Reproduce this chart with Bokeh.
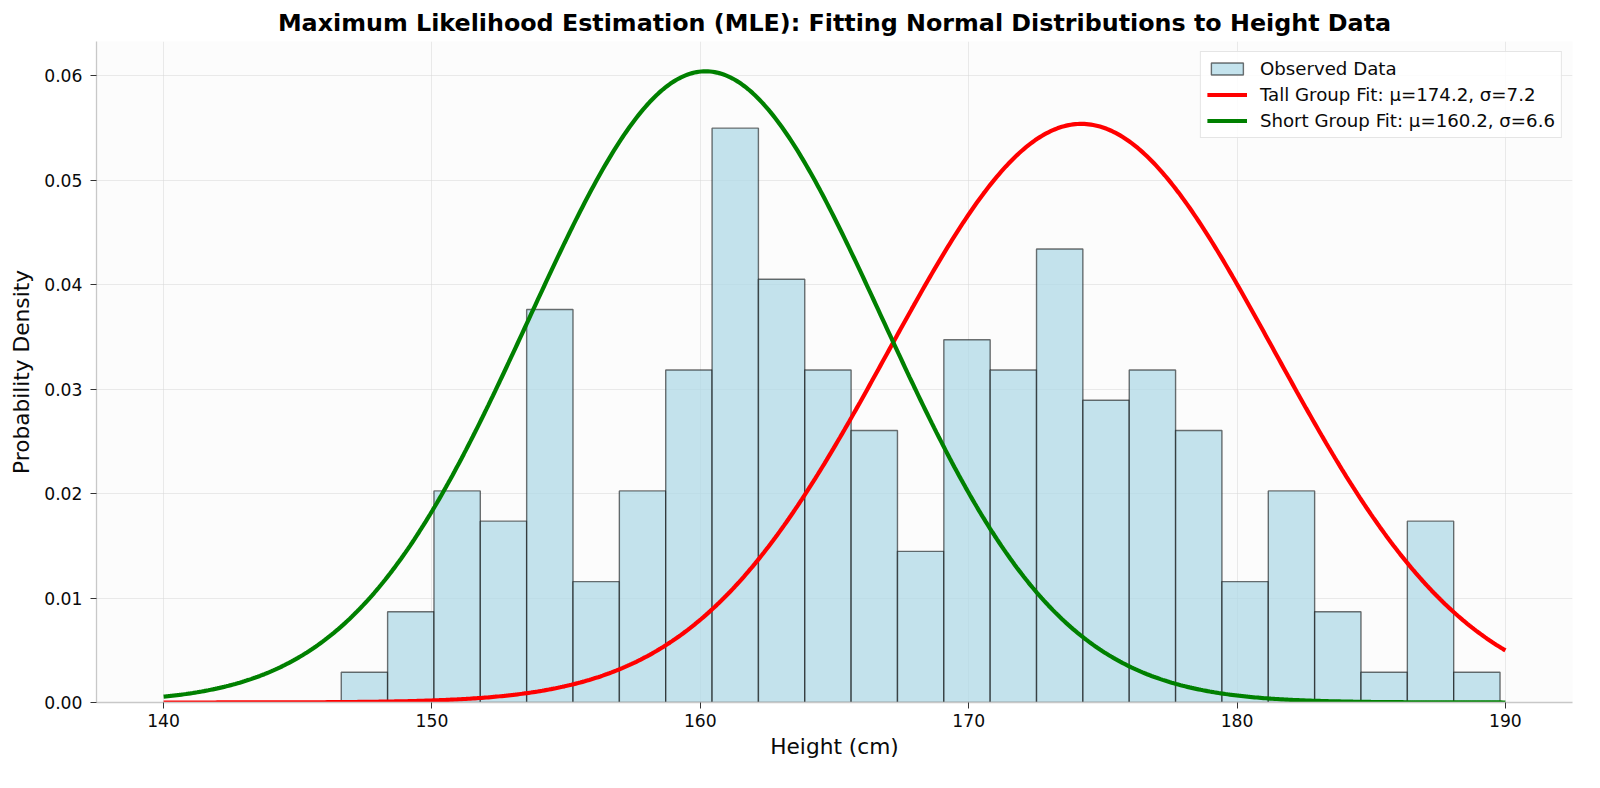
import numpy as np
from bokeh.plotting import figure
from bokeh.models import Range1d, FixedTicker, PrintfTickFormatter, Legend, LegendItem
from bokeh.embed import file_html
from bokeh.resources import INLINE

# ---- data ----
counts = [1, 3, 7, 6, 13, 4, 7, 11, 19, 14, 11, 9, 5, 12, 11, 15, 10, 11, 9, 4, 7, 3, 1, 6, 1]
data_min = 146.62
data_max = 189.80
tall_mu, tall_sigma = 174.2, 7.2
short_mu, short_sigma = 160.2, 6.6
x_ticks = [140, 150, 160, 170, 180, 190]
y_ticks = [0.00, 0.01, 0.02, 0.03, 0.04, 0.05, 0.06]
curve_lo, curve_hi = 140, 190

# histogram (density)
n_total = sum(counts)
edges = np.linspace(data_min, data_max, len(counts) + 1)
width = edges[1] - edges[0]
density = np.array(counts) / (n_total * width)

xs = np.linspace(curve_lo, curve_hi, 600)
def pdf(x, mu, s):
    return np.exp(-0.5 * ((x - mu) / s) ** 2) / (s * np.sqrt(2 * np.pi))

FONT = "DejaVu Sans"

p = figure(width=1584, height=772, output_backend="svg", toolbar_location=None,
           x_range=Range1d(137.5, 192.5), y_range=Range1d(0, 0.0633),
           min_border_left=96, min_border_right=12, min_border_top=41, min_border_bottom=70,
           title="Maximum Likelihood Estimation (MLE): Fitting Normal Distributions to Height Data")
p.title.align = "center"
p.title.text_font = FONT
p.title.text_font_size = "23.8px"
p.title.text_font_style = "bold"
p.title.text_color = "#000000"

p.background_fill_color = "#fcfcfc"
p.border_fill_color = "white"
p.outline_line_color = None

bars = p.quad(left=edges[:-1], right=edges[1:], bottom=0, top=density,
              fill_color="#add8e6", fill_alpha=0.72, line_color="black", line_alpha=0.55, line_width=1.4)
tall = p.line(xs, pdf(xs, tall_mu, tall_sigma), line_color="#ff0000", line_width=4.2)
short = p.line(xs, pdf(xs, short_mu, short_sigma), line_color="#008000", line_width=4.2)

for ax in (p.xaxis[0], p.yaxis[0]):
    ax.axis_line_color = "#c8c8c8"
    ax.axis_line_width = 1.3
    ax.major_tick_line_color = "#333333"
    ax.major_tick_in = 0
    ax.major_tick_out = 6
    ax.minor_tick_line_color = None
    ax.major_label_text_font = FONT
    ax.major_label_text_font_size = "17.2px"
    ax.major_label_text_color = "#0a0a0a"
    ax.axis_label_text_font = FONT
    ax.axis_label_text_font_size = "21.7px"
    ax.axis_label_text_font_style = "normal"
    ax.axis_label_text_color = "#0a0a0a"

p.xaxis.ticker = FixedTicker(ticks=x_ticks)
p.yaxis.ticker = FixedTicker(ticks=y_ticks)
p.yaxis.formatter = PrintfTickFormatter(format="%.2f")
p.xaxis.axis_label = "Height (cm)"
p.yaxis.axis_label = "Probability Density"
p.xaxis.major_label_standoff = 5
p.yaxis.major_label_standoff = 8
p.xaxis.axis_label_standoff = 4
p.yaxis.axis_label_standoff = 7

p.grid.grid_line_color = "#d8d8d8"
p.grid.grid_line_alpha = 0.55
p.grid.grid_line_width = 1

legend = Legend(items=[
    LegendItem(label="Observed Data", renderers=[bars]),
    LegendItem(label="Tall Group Fit: μ=%.1f, σ=%.1f" % (tall_mu, tall_sigma), renderers=[tall]),
    LegendItem(label="Short Group Fit: μ=%.1f, σ=%.1f" % (short_mu, short_sigma), renderers=[short]),
], location="top_right")
legend.label_text_font = FONT
legend.label_text_font_size = "18.2px"
legend.label_text_color = "#0a0a0a"
legend.glyph_width = 40
legend.glyph_height = 15
legend.label_height = 21
legend.label_standoff = 13
legend.spacing = 5
legend.padding = 6
legend.margin = 10
legend.border_line_color = "#cccccc"
legend.border_line_width = 1.2
legend.background_fill_color = "white"
legend.background_fill_alpha = 0.85
p.add_layout(legend)

open("out.html", "w").write(file_html(p, INLINE))
